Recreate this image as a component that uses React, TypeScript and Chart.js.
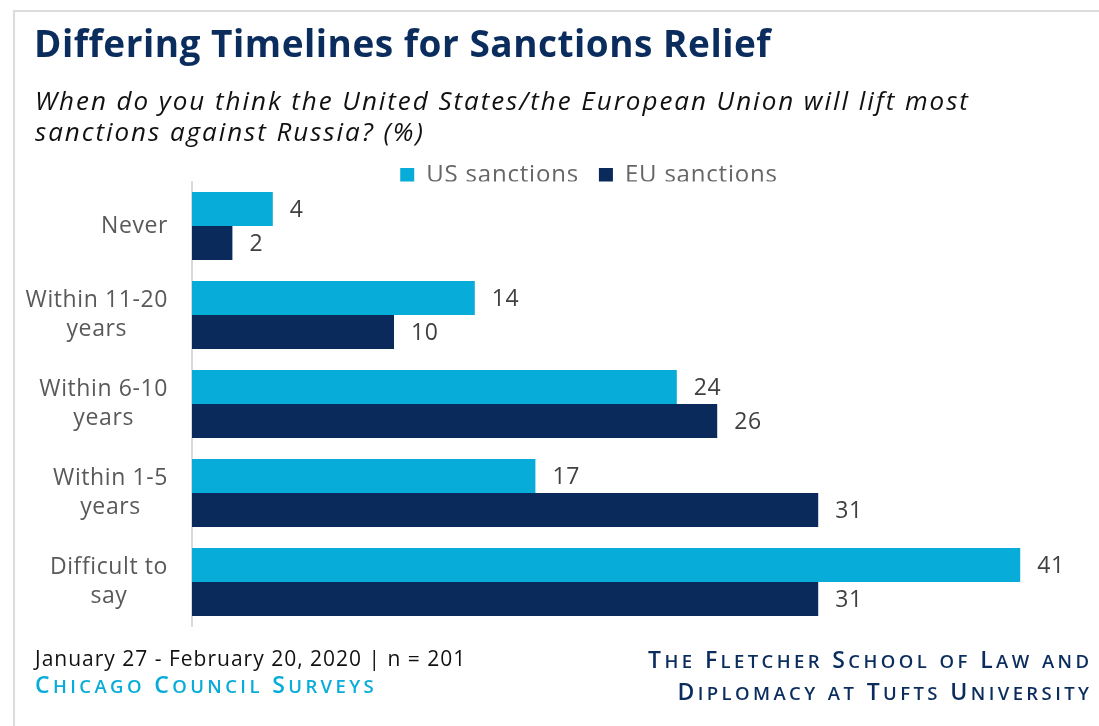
import React, { useEffect, useRef } from "react";
import { Chart, registerables } from "chart.js";

Chart.register(...registerables);

const categories: string[][] = [
  ["Never"],
  ["Within 11-20", "years"],
  ["Within 6-10", "years"],
  ["Within 1-5", "years"],
  ["Difficult to", "say"],
];
const usValues = [4, 14, 24, 17, 41];
const euValues = [2, 10, 26, 31, 31];
const seriesNames = ["US sanctions", "EU sanctions"];
const titleText = "Differing Timelines for Sanctions Relief";
const subtitleLines = [
  "When do you think the United States/the European Union will lift most",
  "sanctions against Russia? (%)",
];
const footerLeft = ["January 27 - February 20, 2020 | n = 201", "Chicago Council Surveys"];
const footerRight = ["The Fletcher School of Law and", "Diplomacy at Tufts University"];

const FONT = "'Open Sans', 'Noto Sans', sans-serif";
const US_COLOR = "#08acd8";
const EU_COLOR = "#0a2a5c";
const NAVY = "#0b2d5e";

function setSpacing(ctx: any, px: number) {
  try {
    ctx.letterSpacing = `${px}px`;
  } catch (e) {}
}

// draw text in small caps: capitals at full size, other letters as smaller capitals
function drawSmallCaps(
  ctx: any,
  text: string,
  x: number,
  y: number,
  align: "left" | "right",
  capSize: number,
  smallSize: number,
  spacing: number
) {
  const bigFont = `600 ${capSize}px ${FONT}`;
  const smallFont = `600 ${smallSize}px ${FONT}`;
  setSpacing(ctx, 0);
  const pieces = Array.from(text).map((ch) => {
    const isBig = ch === ch.toUpperCase() && ch !== ch.toLowerCase();
    const font = isBig || ch === " " ? bigFont : smallFont;
    ctx.font = font;
    const s = ch.toUpperCase();
    const w = ctx.measureText(s).width;
    return { s, font, w };
  });
  const total = pieces.reduce((a, p) => a + p.w, 0) + spacing * (pieces.length - 1);
  let cx = align === "left" ? x : x - total;
  ctx.textAlign = "left";
  pieces.forEach((p) => {
    ctx.font = p.font;
    ctx.fillText(p.s, cx, y);
    cx += p.w + spacing;
  });
}

const decor = {
  id: "decor",
  beforeUpdate(chart: any) {
    setSpacing(chart.ctx, 0.8);
  },
  beforeDraw(chart: any) {
    const ctx = chart.ctx;
    ctx.save();
    ctx.fillStyle = "#ffffff";
    ctx.fillRect(0, 0, chart.width, chart.height);
    ctx.strokeStyle = "#dcdcdc";
    ctx.lineWidth = 2;
    ctx.beginPath();
    ctx.moveTo(14, chart.height);
    ctx.lineTo(14, 11);
    ctx.lineTo(chart.width, 11);
    ctx.stroke();
    ctx.restore();
    setSpacing(ctx, 0.8);
  },
  afterDraw(chart: any) {
    const ctx = chart.ctx;
    ctx.save();
    // title
    ctx.textAlign = "left";
    ctx.textBaseline = "alphabetic";
    ctx.fillStyle = NAVY;
    ctx.font = `bold 37px ${FONT}`;
    setSpacing(ctx, 0.5);
    ctx.fillText(titleText, 34, 57);
    // subtitle
    ctx.fillStyle = "#111111";
    ctx.font = `italic 26px ${FONT}`;
    setSpacing(ctx, 1.95);
    subtitleLines.forEach((l, i) => ctx.fillText(l, 35, 110 + i * 31));

    // category labels
    const yScale = chart.scales.y;
    ctx.font = `23px ${FONT}`;
    setSpacing(ctx, 0.6);
    ctx.fillStyle = "#595959";
    ctx.textAlign = "center";
    ctx.textBaseline = "middle";
    (chart.data.labels as any[]).forEach((lab, i) => {
      const lines: string[] = Array.isArray(lab) ? lab : [lab];
      const w = Math.max(...lines.map((s) => ctx.measureText(s).width));
      const cx = yScale.right - 24 - w / 2;
      const cy = yScale.getPixelForValue(i);
      const lh = 29;
      lines.forEach((s, j) => ctx.fillText(s, cx, cy + (j - (lines.length - 1) / 2) * lh));
    });

    // value labels
    ctx.textAlign = "left";
    ctx.fillStyle = "#404040";
    chart.data.datasets.forEach((ds: any, di: number) => {
      const meta = chart.getDatasetMeta(di);
      meta.data.forEach((bar: any, i: number) => {
        ctx.fillText(String(ds.data[i]), bar.x + 17, bar.y + 1);
      });
    });

    // footer left
    ctx.textBaseline = "alphabetic";
    ctx.fillStyle = "#111111";
    ctx.font = `21px ${FONT}`;
    setSpacing(ctx, 1.0);
    ctx.fillText(footerLeft[0], 35, 666);
    ctx.fillStyle = US_COLOR;
    drawSmallCaps(ctx, footerLeft[1], 35, 693, "left", 23, 18.5, 3.4);
    // footer right
    ctx.fillStyle = NAVY;
    drawSmallCaps(ctx, footerRight[0], 1089, 668, "right", 23, 18.5, 3.4);
    drawSmallCaps(ctx, footerRight[1], 1089, 700, "right", 23, 18.5, 3.4);
    ctx.restore();
  },
};

export default function App() {
  const ref = useRef<HTMLCanvasElement | null>(null);
  useEffect(() => {
    if (!ref.current) return;
    const chart = new Chart(ref.current, {
      type: "bar",
      data: {
        labels: categories,
        datasets: [
          { label: seriesNames[0], data: usValues, backgroundColor: US_COLOR, borderWidth: 0 },
          { label: seriesNames[1], data: euValues, backgroundColor: EU_COLOR, borderWidth: 0 },
        ],
      },
      options: {
        indexAxis: "y",
        responsive: false,
        maintainAspectRatio: false,
        animation: false,
        devicePixelRatio: 1,
        layout: { padding: { left: 79, right: 0, top: 143, bottom: 99.5 } },
        datasets: { bar: { categoryPercentage: 0.765, barPercentage: 1 } },
        scales: {
          x: { display: false, min: 0, max: 44.9 },
          y: {
            ticks: { display: false },
            grid: { display: false },
            border: { display: true, color: "#d9d9d9", width: 2 },
            afterFit(scale: any) {
              scale.width = 113;
            },
          },
        },
        plugins: {
          legend: {
            display: true,
            position: "top",
            align: "center",
            maxHeight: 38.5,
            labels: {
              boxWidth: 14,
              boxHeight: 14,
              padding: 20,
              color: "#666666",
              font: { family: FONT, size: 24 },
            },
          },
          title: { display: false },
          tooltip: { enabled: false },
        },
      },
      plugins: [decor],
    } as any);
    return () => chart.destroy();
  }, []);
  return (
    <div style={{ position: "absolute", left: 0, top: 0, width: 1099, height: 726, background: "#fff" }}>
      <canvas ref={ref} width={1099} height={726} style={{ display: "block", width: 1099, height: 726 }} />
    </div>
  );
}
